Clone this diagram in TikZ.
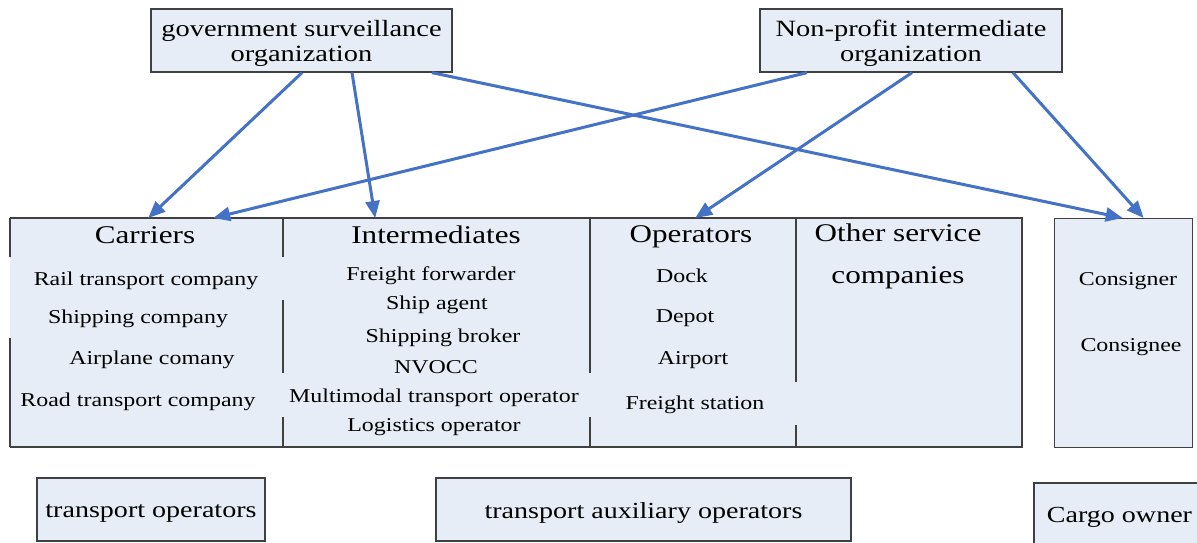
\documentclass[tikz,border=0pt]{standalone}
\usepackage{fontspec}
\setmainfont{Liberation Serif}[FakeStretch=1.22]
\usetikzlibrary{arrows.meta,calc}
\definecolor{boxfill}{RGB}{231,237,247}
\definecolor{boxline}{RGB}{64,64,64}
\definecolor{arrowblue}{RGB}{68,114,196}

\begin{document}
\begin{tikzpicture}[x=1pt,y=-1pt,
  panel/.style={fill=boxfill,draw=boxline,line width=1.3pt,inner sep=0pt},
  column/.style={fill=boxfill,inner sep=0pt,anchor=north west},
  edge/.style={draw=boxline,line width=1.3pt},
  head/.style={font=\fontsize{25.5}{42}\selectfont,inner sep=0pt,align=center},
  item/.style={font=\fontsize{19.6}{22}\selectfont,inner sep=0pt},
  toplabel/.style={font=\fontsize{23.3}{25}\selectfont,align=center,inner sep=0pt},
  botlabel/.style={font=\fontsize{23}{25}\selectfont,inner sep=0pt},
  link/.style={draw=arrowblue,line width=3pt,-{Triangle[length=17pt,width=14pt]}},
]
\useasboundingbox (0,0) rectangle (1197,542);

% supervising bodies
\node[panel,minimum width=301pt,minimum height=63pt] (gov) at (301.5,40.5) {};
\node[toplabel] (govtext) at (301.5,43.5) {government surveillance\\organization};
\node[panel,minimum width=302pt,minimum height=63pt] (npo) at (911,40.5) {};
\node[toplabel] (npotext) at (911,43.5) {Non-profit intermediate\\organization};

% market participants, one column each
\node[column,minimum width=273pt,minimum height=229pt] (carriers) at (10,218) {};
\node[column,minimum width=307pt,minimum height=229pt] (inter) at (283,218) {};
\node[column,minimum width=206pt,minimum height=229pt] (oper) at (590,218) {};
\node[column,minimum width=226pt,minimum height=229pt] (other) at (796,218) {};

% outline of the column block (broken where the labels overlap it)
\draw[edge] (10,218) -- (1022,218) -- (1022,447) -- (10,447);
\draw[edge] (10,218) -- (10,257) (10,338) -- (10,447);
\draw[edge] (283,218) -- (283,257) (283,300) -- (283,373) (283,417) -- (283,447);
\draw[edge] (590,218) -- (590,373) (590,417) -- (590,447);
\draw[edge] (796,218) -- (796,382) (796,425) -- (796,447);

% cargo owners
\node[panel,anchor=north west,minimum width=138pt,minimum height=229pt] (shipper) at (1054,218) {};

% column contents
\node[head] (hcar) at (145,235) {Carriers};
\node[item] (rail) at (146,281) {Rail transport company};
\node[item] (ship) at (138,319) {Shipping company};
\node[item] (air) at (152,360) {Airplane comany};
\node[item] (road) at (138,402) {Road transport company};

\node[head] (hint) at (436,235) {Intermediates};
\node[item] (ff) at (431,276) {Freight forwarder};
\node[item] (sa) at (437,305) {Ship agent};
\node[item] (sb) at (443,338) {Shipping broker};
\node[item] (nv) at (436,367) {NVOCC};
\node[item] (mto) at (434,398) {Multimodal transport operator};
\node[item] (lo) at (434,427) {Logistics operator};

\node[head] (hop) at (691,237) {Operators};
\node[item] (dock) at (682,276) {Dock};
\node[item] (depot) at (685,318) {Depot};
\node[item] (airport) at (693,360) {Airport};
\node[item] (fs) at (695,405) {Freight station};

\node[head] (hoth) at (898,256) {Other service\\companies};

\node[item] (cnr) at (1128,281) {Consigner};
\node[item] (cne) at (1131,347) {Consignee};

% group labels
\node[panel,minimum width=228pt,minimum height=63pt] (transop) at (151,509.5) {};
\node[botlabel] (transoptext) at (151,513) {transport operators};
\node[panel,minimum width=415pt,minimum height=63pt] (auxop) at (643.5,509.5) {};
\node[botlabel] (auxoptext) at (643.5,513) {transport auxiliary operators};
\node[panel,minimum width=171pt,minimum height=62pt] (owner) at (1119.5,514) {};
\node[botlabel] (ownertext) at (1119.5,517) {Cargo owner};

% relations
\draw[link] ([xshift=0.5pt]gov.south) -- ([xshift=1.5pt]carriers.north);
\draw[link] ([xshift=50.5pt]gov.south) -- ([xshift=-61.5pt]inter.north);
\draw[link] ([xshift=130.5pt]gov.south) -- ([xshift=-1pt]shipper.north);
\draw[link] ([xshift=-104pt]npo.south) -- ([xshift=66.5pt]carriers.north);
\draw[link] ([xshift=1pt]npo.south) -- ([xshift=2pt]oper.north);
\draw[link] ([xshift=102pt]npo.south) -- ([xshift=20pt]shipper.north);
\end{tikzpicture}
\end{document}
